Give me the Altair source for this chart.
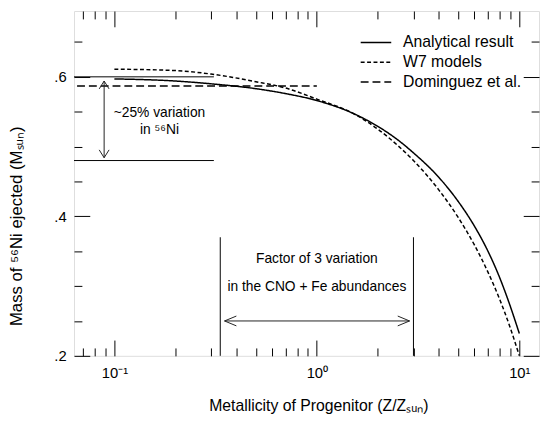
import altair as alt
import pandas as pd

# ---------------- data ----------------
series_names = ["Analytical result", "W7 models", "Dominguez et al."]

z_analytic = [0.1, 0.2, 0.3, 0.5, 0.7, 1.0, 1.5, 2.0, 2.5, 3.0, 4.0, 5.0, 6.0, 7.0, 8.0, 9.0, 10.0]
m_analytic = [0.597, 0.594, 0.590, 0.583, 0.576, 0.566, 0.548, 0.529, 0.510, 0.491, 0.456, 0.421, 0.386, 0.350, 0.312, 0.272, 0.232]

z_w7 = [0.1, 0.2, 0.3, 0.5, 0.7, 1.0, 1.5, 2.0, 2.5, 3.0, 4.0, 5.0, 6.0, 7.0, 8.0, 9.0, 10.0]
m_w7 = [0.611, 0.609, 0.604, 0.593, 0.584, 0.568, 0.548, 0.525, 0.502, 0.480, 0.438, 0.398, 0.359, 0.320, 0.281, 0.241, 0.200]

z_dom = [0.05, 1.0]
m_dom = [0.587, 0.587]

# horizontal reference levels (~25% variation)
ref_levels = [0.6, 0.48]
ref_x_start = [0.05, 0.05]
ref_x_end = [0.31, 0.31]

# vertical markers (factor of 3 around solar)
vline_x = [1 / 3, 3.0]
vline_bottom = [0.2, 0.2]
vline_top = [0.37, 0.37]

# arrows: shafts (x, x2, y, y2)
arrow_x = [0.089, 0.35]
arrow_x2 = [0.089, 2.87]
arrow_y = [0.594, 0.25]
arrow_y2 = [0.484, 0.25]

# arrow heads
head_x = [0.089, 0.089, 0.35, 2.87]
head_y = [0.594, 0.484, 0.25, 0.25]
head_angle = [90, 270, 0, 180]
head_shape = ["M2,-1.25L0,0L2,1.25", "M2,-1.25L0,0L2,1.25", "M2,-0.83L0,0L2,0.83", "M2,-0.83L0,0L2,0.83"]
head_size = [64, 64, 144, 144]

# annotations
note_text = ["~25% variation", "in \u2075\u2076Ni", "Factor of 3 variation", "in the CNO + Fe abundances"]
note_x = [0.167, 0.167, 1.0, 1.0]
note_y = [0.548, 0.523, 0.339, 0.298]

# axes
x_major = [0.1, 1, 10]
x_minor = [0.07, 0.08, 0.09, 0.2, 0.3, 0.4, 0.5, 0.6, 0.7, 0.8, 0.9,
           2, 3, 4, 5, 6, 7, 8, 9]
y_major = [0.2, 0.4, 0.6]
y_minor = [0.25, 0.3, 0.35, 0.45, 0.5, 0.55, 0.65]

FONT = "Liberation Sans"
W, H = 472, 350
X_DOMAIN = [0.06318, 12.51]
Y_DOMAIN = [0.2, 0.2 + H / 708.0]

# ---------------- tables ----------------
curves = pd.concat([
    pd.DataFrame({"z": z_analytic, "m": m_analytic, "series": series_names[0]}),
    pd.DataFrame({"z": z_w7, "m": m_w7, "series": series_names[1]}),
    pd.DataFrame({"z": z_dom, "m": m_dom, "series": series_names[2]}),
], ignore_index=True)
curves["order"] = range(len(curves))

refs = pd.DataFrame({"x": ref_x_start, "x2": ref_x_end, "y": ref_levels})
vlines = pd.DataFrame({"x": vline_x, "y": vline_bottom, "y2": vline_top})
arrows = pd.DataFrame({"x": arrow_x, "x2": arrow_x2, "y": arrow_y, "y2": arrow_y2})
heads = pd.DataFrame({"x": head_x, "y": head_y, "angle": head_angle,
                      "shape": head_shape, "size": head_size})
notes = pd.DataFrame({"text": note_text, "x": note_x, "y": note_y})

xs = alt.Scale(type="log", domain=X_DOMAIN, nice=False)
ys = alt.Scale(type="linear", domain=Y_DOMAIN, nice=False, zero=False)


def tick_axis(orient, values, size):
    return alt.Axis(orient=orient, values=values, labels=False, ticks=True,
                    tickSize=alt.ExprRef(expr=str(-size)), tickColor="black",
                    tickWidth=1, domain=False, grid=False, title=None)


x_label_axis = alt.Axis(
    orient="bottom", values=x_major,
    labelExpr="datum.value < 0.5 ? '10\u207b\u00b9' : datum.value < 5 ? '10\u2070' : '10\u00b9'",
    ticks=False, domain=False, grid=False, labelFlush=False,
    labelFont=FONT, labelFontSize=15, labelPadding=10, labelColor="black",
    title="Metallicity of Progenitor (Z/Z\u209b\u1d64\u2099)",
    titleFont=FONT, titleFontSize=16, titleFontWeight="normal", titleColor="black",
    titleX=248, titleY=50, titleAlign="center", titleBaseline="middle")

y_label_axis = alt.Axis(
    orient="left", values=y_major,
    labelExpr="replace(format(datum.value, '.1f'), '0.', '.')",
    ticks=False, domain=False, grid=False, labelFlush=False,
    labelFont=FONT, labelFontSize=15, labelPadding=8, labelColor="black",
    title="Mass of \u2075\u2076Ni ejected (M\u209b\u1d64\u2099)",
    titleFont=FONT, titleFontSize=17, titleFontWeight="normal", titleColor="black",
    titleAngle=270, titleX=-58, titleY=218, titleAlign="center", titleBaseline="middle")

lines = alt.Chart(curves).mark_line(color="black", strokeWidth=1.5, clip=True,
                                    interpolate="monotone").encode(
    x=alt.X("z:Q", scale=xs, axis=x_label_axis),
    y=alt.Y("m:Q", scale=ys, axis=y_label_axis),
    strokeDash=alt.StrokeDash(
        "series:N",
        scale=alt.Scale(domain=series_names, range=[[1, 0], [4, 2.5], [8, 4]]),
        sort=series_names,
        legend=alt.Legend(title=None, orient="none", legendX=290, legendY=24,
                          symbolType="stroke", symbolSize=961, symbolStrokeWidth=1.5,
                          symbolStrokeColor="black", labelFont=FONT, labelFontSize=16,
                          labelColor="black", labelOffset=11, clipHeight=16,
                          rowPadding=4, padding=0)),
    order="order:Q",
)

ref_layer = alt.Chart(refs).mark_rule(color="black", strokeWidth=1, clip=True).encode(
    x=alt.X("x:Q", scale=xs, axis=tick_axis("bottom", x_major, 16)),
    x2="x2:Q",
    y=alt.Y("y:Q", scale=ys, axis=tick_axis("left", y_major, 16)),
)

vline_layer = alt.Chart(vlines).mark_rule(color="black", strokeWidth=1).encode(
    x=alt.X("x:Q", scale=xs, axis=tick_axis("bottom", x_minor, 8)),
    y=alt.Y("y:Q", scale=ys, axis=tick_axis("left", y_minor, 8)),
    y2="y2:Q",
)

arrow_layer = alt.Chart(arrows).mark_rule(color="#222", strokeWidth=1).encode(
    x=alt.X("x:Q", scale=xs, axis=tick_axis("top", x_major, 16)),
    x2="x2:Q",
    y=alt.Y("y:Q", scale=ys, axis=tick_axis("right", y_major, 16)),
    y2="y2:Q",
)

head_layer = alt.Chart(heads).mark_point(filled=False, color="#222", strokeWidth=1,
                                         opacity=1).encode(
    x=alt.X("x:Q", scale=xs, axis=tick_axis("top", x_minor, 8)),
    y=alt.Y("y:Q", scale=ys, axis=tick_axis("right", y_minor, 8)),
    angle=alt.Angle("angle:Q", scale=None),
    shape=alt.Shape("shape:N", scale=None),
    size=alt.Size("size:Q", scale=None),
)

note_layer = alt.Chart(notes).mark_text(font=FONT, fontSize=14, color="black",
                                        align="center", baseline="middle").encode(
    x=alt.X("x:Q", scale=xs, axis=None),
    y=alt.Y("y:Q", scale=ys, axis=None),
    text="text:N",
)

chart = alt.layer(
    lines, ref_layer, vline_layer, arrow_layer, head_layer, note_layer
).resolve_axis(
    x="independent", y="independent"
).properties(
    width=W, height=H,
    autosize=alt.AutoSizeParams(type="none"),
    padding={"left": 67, "top": 0, "right": 1, "bottom": 58},
    background="white",
).configure_view(
    stroke="black", strokeWidth=1
).configure(
    font=FONT
)

chart.save("out.html", embed_options={"renderer": "svg", "actions": False})
